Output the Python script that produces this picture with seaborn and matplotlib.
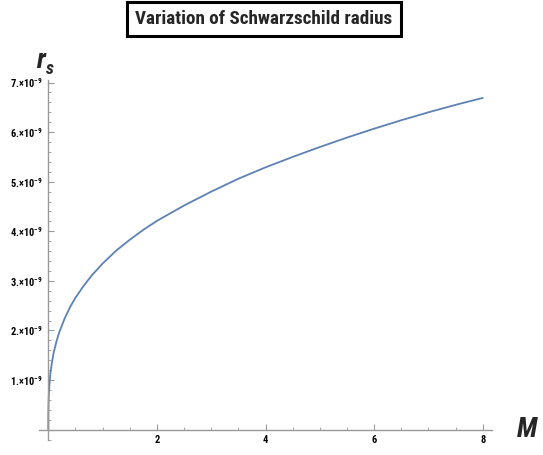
import numpy as np
import pandas as pd
import seaborn as sns
import matplotlib.pyplot as plt
from matplotlib.ticker import MultipleLocator, FuncFormatter

# --- data ---
mass = [0, 0.0001, 0.0005, 0.002, 0.005, 0.01, 0.02, 0.04, 0.07, 0.1, 0.15,
        0.2, 0.3, 0.4, 0.5, 0.65, 0.8, 1.0, 1.25, 1.5, 1.75, 2.0, 2.5, 3.0,
        3.5, 4.0, 4.5, 5.0, 5.5, 6.0, 6.5, 7.0, 7.5, 8.0]
radius_e9 = [0, 0.16, 0.27, 0.42, 0.57, 0.72, 0.91, 1.15, 1.38, 1.56, 1.78,
             1.96, 2.24, 2.47, 2.66, 2.90, 3.11, 3.35, 3.61, 3.83, 4.03, 4.21,
             4.52, 4.80, 5.06, 5.29, 5.50, 5.70, 5.89, 6.07, 6.24, 6.40, 6.55, 6.69]

df = pd.DataFrame({"M": mass, "rs": np.array(radius_e9) * 1e-9})

# narrow bold face like the reference, falling back to plain sans
NARROW = ['Liberation Sans Narrow', 'Roboto Condensed', 'Liberation Sans', 'DejaVu Sans']

sns.set_style("white")
plt.rcParams['font.family'] = NARROW
plt.rcParams['mathtext.default'] = 'regular'

fig, ax = plt.subplots(figsize=(5.43, 4.55), dpi=100)
fig.subplots_adjust(left=0.072, right=0.906, bottom=0.034, top=0.824)

sns.lineplot(data=df, x="M", y="rs", ax=ax, color="#5E81B5", linewidth=1.3)

ax.set_xlim(-0.17, 8.17)
ax.set_ylim(-0.2e-9, 7.05e-9)

for side in ["top", "right"]:
    ax.spines[side].set_visible(False)
for side in ["left", "bottom"]:
    ax.spines[side].set_position(("data", 0))
    ax.spines[side].set_color("#999999")
    ax.spines[side].set_linewidth(1.0)

ax.xaxis.set_major_locator(MultipleLocator(2))
ax.xaxis.set_minor_locator(MultipleLocator(0.5))
ax.yaxis.set_major_locator(MultipleLocator(1e-9))
ax.yaxis.set_minor_locator(MultipleLocator(0.2e-9))

ax.xaxis.set_major_formatter(FuncFormatter(lambda v, p: "" if abs(v) < 1e-6 else f"{v:.0f}"))
ax.yaxis.set_major_formatter(FuncFormatter(
    lambda v, p: "" if abs(v) < 1e-15 else f"{v * 1e9:.0f}.×10$^{{-9}}$"))

ax.tick_params(axis="both", which="both", direction="in", colors="#999999",
               labelcolor="black", labelsize=7.5, bottom=True, left=True)
ax.tick_params(axis="both", which="major", length=4, width=0.8, pad=4)
ax.tick_params(axis="both", which="minor", length=2.5, width=0.6)
for lab in ax.get_xticklabels() + ax.get_yticklabels():
    lab.set_fontweight("bold")

ax.set_xlabel("")
ax.set_ylabel("")
# axis labels in Mathematica style: r_s above the y axis, M right of the x axis
ax.text(-0.22, 7.29e-9, "r", fontsize=20, fontweight="bold", style="italic",
        ha="left", va="baseline")
ax.text(-0.05, 7.45e-9, "s", fontsize=13, fontweight="bold", style="italic",
        ha="left", va="top")
ax.text(8.62, 0, "M", fontsize=20, fontweight="bold", style="italic",
        ha="left", va="center")

fig.text(0.486, 0.959, "Variation of Schwarzschild radius", ha="center", va="center",
         fontsize=13.8, fontweight="bold",
         bbox=dict(boxstyle="square,pad=0.42", facecolor="white", edgecolor="black", linewidth=2.2))

fig.savefig("out.png", dpi=100)
